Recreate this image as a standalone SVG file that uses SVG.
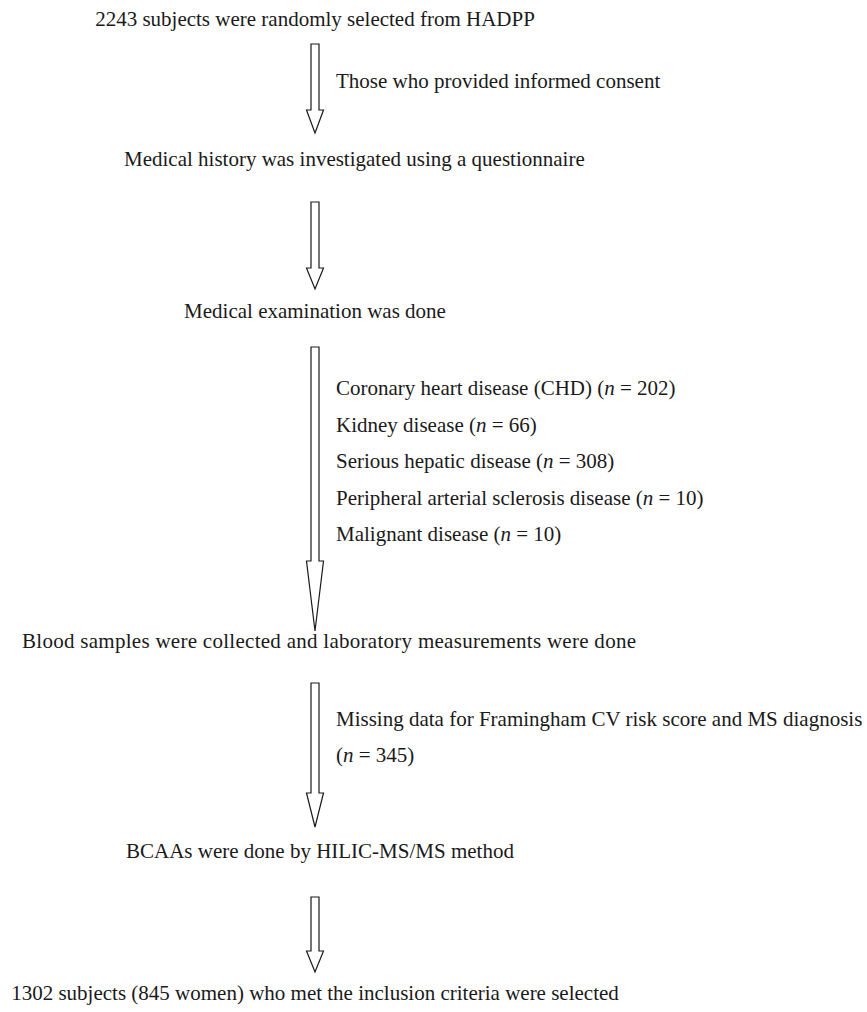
<svg xmlns="http://www.w3.org/2000/svg" width="867" height="1012" viewBox="0 0 867 1012">
<style>
text{font-family:"Liberation Serif","Times New Roman",serif;font-size:21px;fill:#1a1a1a}
.c{text-anchor:middle}
.i{font-style:italic}
.arrow{fill:#fff;stroke:#1a1a1a;stroke-width:1.2;stroke-linejoin:miter}
</style>
<rect width="867" height="1012" fill="#fff"/>
<g id="n1"><text class="c" x="315" y="26">2243 subjects were randomly selected from HADPP</text></g>
<g id="n2"><text x="124" y="166">Medical history was investigated using a questionnaire</text></g>
<g id="n3"><text class="c" x="315" y="318">Medical examination was done</text></g>
<g id="n4"><text x="22" y="648" textLength="614" lengthAdjust="spacing">Blood samples were collected and laboratory measurements were done</text></g>
<g id="n5"><text x="126" y="858">BCAAs were done by HILIC-MS/MS method</text></g>
<g id="n6"><text class="c" x="315" y="1000">1302 subjects (845 women) who met the inclusion criteria were selected</text></g>
<g id="connectors">
<polygon class="arrow" points="311,44 319,44 319,110 323.5,110 315,133 306.5,110 311,110"/>
<polygon class="arrow" points="311,202 319,202 319,268 323.5,268 315,289 306.5,268 311,268"/>
<polygon class="arrow" points="311,347 319,347 319,561 323.5,561 315,631 306.5,561 311,561"/>
<polygon class="arrow" points="311,683 319,683 319,793 323.5,793 315,827 306.5,793 311,793"/>
<polygon class="arrow" points="311,897 319,897 319,951 323.5,951 315,972 306.5,951 311,951"/>
<text x="336" y="88">Those who provided informed consent</text>
<text x="336" y="395">Coronary heart disease (CHD) (<tspan class="i">n</tspan> = 202)</text>
<text x="336" y="432">Kidney disease (<tspan class="i">n</tspan> = 66)</text>
<text x="336" y="468">Serious hepatic disease (<tspan class="i">n</tspan> = 308)</text>
<text x="336" y="505">Peripheral arterial sclerosis disease (<tspan class="i">n</tspan> = 10)</text>
<text x="336" y="541">Malignant disease (<tspan class="i">n</tspan> = 10)</text>
<text x="336" y="726">Missing data for Framingham CV risk score and MS diagnosis</text>
<text x="336" y="762">(<tspan class="i">n</tspan> = 345)</text>
</g>
</svg>
